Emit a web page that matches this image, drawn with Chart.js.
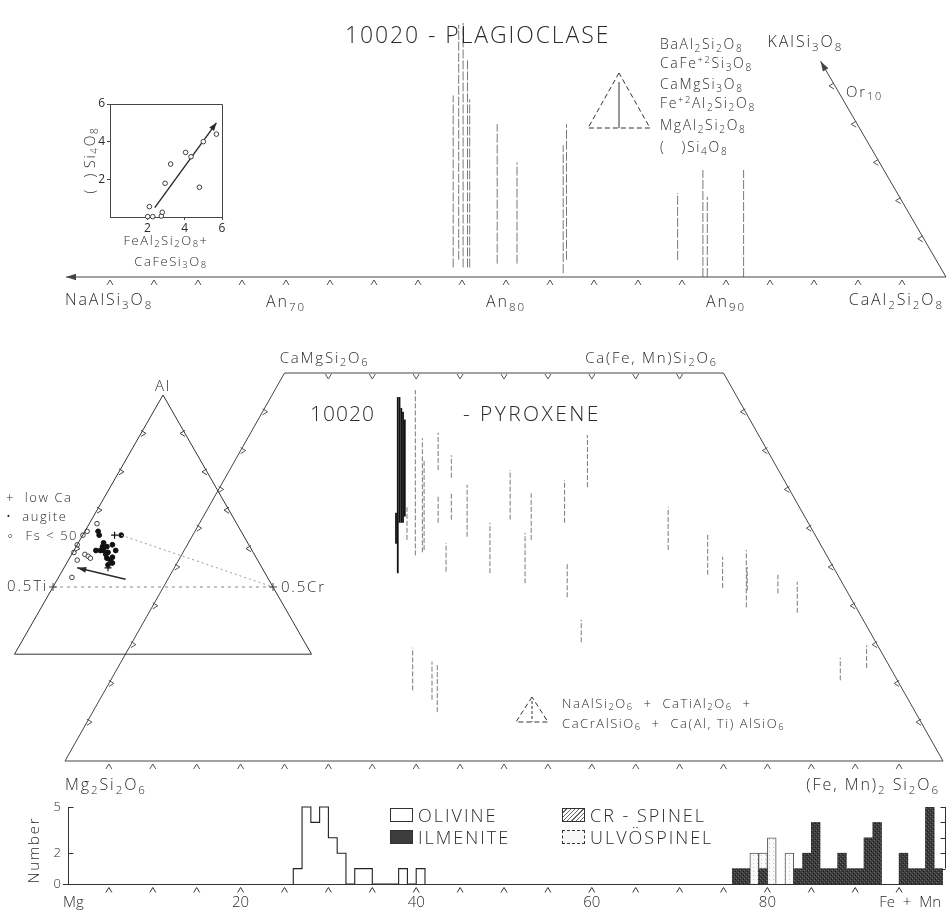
<!DOCTYPE html>
<html>
<head>
<meta charset="utf-8">
<title>10020 plagioclase, pyroxene and opaque minerals</title>
<script src="https://cdn.jsdelivr.net/npm/chart.js@4.4.1/dist/chart.umd.min.js"></script>
<style>
  html, body { margin: 0; padding: 0; background: #fff; }
  #page { position: relative; width: 950px; height: 913px; overflow: hidden; background: #fff;
          font-family: 'Open Sans', 'DejaVu Sans', sans-serif; font-weight: 300; color: #2b2b2b; }
  #page canvas { position: absolute; }
  #glyphs { position: absolute; left: 0; top: 0; }
  .t { position: absolute; white-space: nowrap; line-height: 1; letter-spacing: 0.12em; }
  .l { transform: translate(0, -50%); }
  .c { transform: translate(-50%, -50%); }
  .r { transform: translate(-100%, -50%); }
  .rot { transform: translate(-50%, -50%) rotate(-90deg); }
  sub { font-size: 0.72em; vertical-align: -0.32em; line-height: 0; }
  sup { font-size: 0.66em; vertical-align: 0.55em; line-height: 0; }
  .sw { position: absolute; width: 23px; height: 14px; box-sizing: border-box; border: 1px solid #333; }
</style>
</head>
<body>
<div id="page">
  <canvas id="plag"  width="950" height="300" style="left:0;top:0"></canvas>
  <canvas id="inset" width="240" height="170" style="left:0;top:90px"></canvas>
  <canvas id="pyx"   width="950" height="440" style="left:0;top:340px"></canvas>
  <canvas id="tern"  width="340" height="300" style="left:0;top:380px"></canvas>
  <canvas id="hist"  width="950" height="123" style="left:0;top:790px"></canvas>
  <svg id="glyphs" width="950" height="913">
    <g fill="none" stroke="#333" stroke-width="1" stroke-dasharray="5 3">
      <path d="M619 73 L588 128 L650 128 Z"/>
      <path d="M619 82 L619 128" stroke-dasharray="none"/>
      <path d="M532 697 L516 722 L548 722 Z"/>
      <path d="M532 701 L532 722" stroke-dasharray="3 2"/>
    </g>
  </svg>
</div>
<script>
// ---------------- data ----------------

// Plagioclase: An mol% of each analysed grain trace and the span of its
// minor-component content, read on the Or mol% scale
const plagTraceAn   = [77.6, 77.85, 78.05, 78.25, 78.35, 79.6, 80.5, 82.6, 82.75, 87.8, 88.95, 89.15, 90.8];
const plagTraceLow  = [0.5, 0.9, 0.5, 0.5, 0.5, 0.7, 0.7, 0.2, 0.9, 0.9, 0.0, 0.0, 0.0];
const plagTraceHigh = [9.5, 13.2, 13.3, 11.4, 9.3, 8.0, 6.0, 6.9, 8.0, 4.4, 5.6, 4.2, 5.6];
const anTicks = [62, 64, 66, 68, 70, 72, 74, 76, 78, 80, 82, 84, 86, 88, 90, 92, 94, 96, 98];
const anLabelValues = [70, 80, 90];
const orTicks = [2, 4, 6, 8, 10];
const orEdgeTop = { an: 94.3, or: 11.3 };

// Inset: ( )Si4O8 against FeAl2Si2O8 + CaFeSi3O8
const insetX = [2.02, 2.11, 2.29, 2.75, 2.80, 2.95, 3.25, 4.05, 4.34, 4.79, 5.00, 5.70];
const insetY = [0.02, 0.55, 0.02, 0.05, 0.25, 1.79, 2.81, 3.43, 3.20, 1.58, 4.00, 4.40];
const insetTrendX = [2.4, 5.7];
const insetTrendY = [0.5, 5.0];
const insetTicks = [2, 4, 6];

// Pyroxene traces: horizontal position on the Mg2Si2O6-(Fe,Mn)2Si2O6 join
// and the Wo range (mol%) covered by each trace
const pyxX    = [37.9, 38.1, 38.3, 38.5, 38.7, 37.7, 39.9, 38.95, 40.7, 40.9, 42.5, 42.5, 44.0, 44.0, 43.4, 45.8, 48.4,
                 50.7, 52.4, 53.1, 56.9, 57.2, 59.5, 58.8, 68.7, 39.6, 41.8, 42.4, 73.2, 74.9, 77.6, 77.7, 81.2, 83.4, 88.3, 91.3];
const pyxLow  = [24.2, 30.7, 30.7, 30.7, 31.5, 28.0, 26.5, 28.5, 26.9, 27.2, 37.5, 30.7, 36.5, 31.1, 24.4, 28.9, 24.2,
                 31.1, 22.9, 28.5, 30.7, 21.1, 35.3, 15.3, 27.2, 9.1, 7.9, 6.3, 24.0, 22.3, 19.8, 22.0, 21.6, 19.1, 10.4, 12.0];
const pyxHigh = [46.9, 46.9, 45.5, 45.0, 44.0, 32.0, 47.8, 32.7, 41.6, 38.8, 42.3, 34.3, 39.4, 34.5, 28.1, 35.6, 30.7,
                 37.5, 29.4, 34.5, 36.2, 25.6, 42.0, 18.2, 32.7, 14.6, 12.8, 12.4, 29.4, 26.3, 27.2, 25.0, 24.0, 23.1, 13.3, 14.9];
const woTicks = [5, 10, 15, 20, 25, 30, 35, 40, 45];
const joinTicks = [5, 10, 15, 20, 25, 30, 35, 40, 45, 50, 55, 60, 65, 70, 75, 80, 85, 90, 95];
const topTicks = [30, 35, 40, 45, 50, 55, 60, 65, 70];

// Al - 0.5Ti - 0.5Cr inset: x along the 0.5Ti-0.5Cr line, y = Al fraction
const ternLowCaX  = [0.28, 0.25];
const ternLowCaY  = [0.27, 0.10];
const ternAugiteX = [0.205, 0.21, 0.31, 0.23, 0.245, 0.27, 0.195, 0.23, 0.25, 0.285, 0.24, 0.245, 0.26, 0.27, 0.25, 0.27, 0.225, 0.215];
const ternAugiteY = [0.29, 0.27, 0.27, 0.23, 0.21, 0.22, 0.19, 0.19, 0.18, 0.19, 0.17, 0.15, 0.14, 0.125, 0.115, 0.155, 0.21, 0.19];
const ternFsX     = [0.20, 0.155, 0.136, 0.11, 0.095, 0.145, 0.16, 0.17, 0.11, 0.086];
const ternFsY     = [0.33, 0.29, 0.27, 0.22, 0.18, 0.17, 0.16, 0.15, 0.14, 0.05];
const ternTrendX  = [0.33, 0.11];
const ternTrendY  = [0.04, 0.10];
const ternAlTicks = [0.2, 0.4, 0.6, 0.8];
const ternBaseAl  = -0.35;

// Opaque-mineral histogram, bins of 1 mol% on the Mg to Fe+Mn scale
const olivineBinStart = [26, 27, 28, 29, 30, 31, 32, 33, 34, 35, 36, 37, 38, 39, 40];
const olivineCount    = [ 1,  5,  4,  5,  3,  2,  0,  1,  1,  0,  0,  0,  1,  0,  1];
const ilmeniteBin     = [76, 77, 79, 83, 84, 85, 86, 87, 88, 89, 90, 91, 92, 95, 96, 97, 98, 99];
const ilmeniteCount   = [ 1,  1,  1,  1,  2,  4,  1,  1,  2,  1,  1,  3,  4,  2,  1,  1,  5,  1];
const ulvospinelBin   = [78, 79, 80, 82];
const ulvospinelCount = [ 2,  1,  3,  2];
const crSpinelBin     = [];
const crSpinelCount   = [];
const histTickValues  = [0, 20, 40, 60, 80];
const histTickText    = ['Mg', '20', '40', '60', '80'];
const countLabels     = [0, 2, 5];

// ---------------- drawing helpers ----------------
const INK = '#2b2b2b';
const FONT = "'Open Sans', 'DejaVu Sans', sans-serif";
Chart.defaults.font.family = FONT;
Chart.defaults.color = INK;

const page = document.getElementById('page');

function chevron(ctx, x, y, ux, uy, s) {
  // small open chevron: vertex at (x, y), legs opening toward (ux, uy)
  const px = -uy, py = ux;
  ctx.beginPath();
  ctx.moveTo(x + ux * s + px * s * 0.6, y + uy * s + py * s * 0.6);
  ctx.lineTo(x, y);
  ctx.lineTo(x + ux * s - px * s * 0.6, y + uy * s - py * s * 0.6);
  ctx.stroke();
}

function head(ctx, x0, y0, x1, y1, len, wid) {
  const L = Math.hypot(x1 - x0, y1 - y0) || 1;
  const ux = (x1 - x0) / L, uy = (y1 - y0) / L;
  ctx.beginPath();
  ctx.moveTo(x1, y1);
  ctx.lineTo(x1 - ux * len - uy * wid, y1 - uy * len + ux * wid);
  ctx.lineTo(x1 - ux * len + uy * wid, y1 - uy * len - ux * wid);
  ctx.closePath();
  ctx.fill();
}

// arrowheads at the last point of any dataset flagged with arrowHead
Chart.register({
  id: 'arrowHeads',
  afterDatasetsDraw(chart) {
    const ctx = chart.ctx;
    chart.data.datasets.forEach((ds, i) => {
      if (!ds.arrowHead) return;
      const pts = chart.getDatasetMeta(i).data;
      const a = pts[pts.length - 2], b = pts[pts.length - 1];
      ctx.save();
      ctx.fillStyle = ds.borderColor || INK;
      head(ctx, a.x, a.y, b.x, b.y, ds.arrowHead[0], ds.arrowHead[1]);
      ctx.restore();
    });
  }
});

function lineSet(xs, ys, style) {
  return Object.assign({
    type: 'scatter', showLine: true, pointRadius: 0, clip: false,
    borderColor: INK, borderWidth: 1,
    data: xs.map((v, i) => ({ x: v, y: ys[i] }))
  }, style || {});
}

function traceSets(xs, lows, highs, style) {
  return xs.map((v, i) => lineSet([v, v], [lows[i], highs[i]], style));
}

function frameOptions(xmin, xmax, ymin, ymax, padding) {
  return {
    responsive: false, animation: false, events: [],
    layout: { padding },
    plugins: { legend: { display: false }, tooltip: { enabled: false } },
    scales: {
      x: { type: 'linear', min: xmin, max: xmax, display: false, offset: false },
      y: { type: 'linear', min: ymin, max: ymax, display: false }
    }
  };
}

function put(html, x, y, anchor, size, extra) {
  const d = document.createElement('div');
  d.className = 't ' + (anchor || 'l');
  d.innerHTML = html;
  d.style.left = x + 'px';
  d.style.top = y + 'px';
  d.style.fontSize = (size || 14) + 'px';
  if (extra) Object.assign(d.style, extra);
  page.appendChild(d);
  return d;
}

function at(chart, xv, yv) {
  const c = chart.canvas;
  return [c.offsetLeft + chart.scales.x.getPixelForValue(xv), c.offsetTop + chart.scales.y.getPixelForValue(yv)];
}

function pattern(draw) {
  const c = document.createElement('canvas');
  c.width = 4; c.height = 4;
  draw(c.getContext('2d'));
  return c.getContext('2d').createPattern(c, 'repeat');
}

// ---------------- plagioclase ----------------
const orEdgeAn = k => 100 - k * (100 - orEdgeTop.an) / orEdgeTop.or;

const plag = new Chart(document.getElementById('plag'), {
  type: 'scatter',
  data: {
    datasets: [
      lineSet([100, 60], [0, 0], { borderColor: '#444', arrowHead: [10, 3.2] }),
      lineSet([100, orEdgeTop.an], [0, orEdgeTop.or], { borderColor: '#444', arrowHead: [10, 3.2] }),
      ...traceSets(plagTraceAn, plagTraceLow, plagTraceHigh, { borderColor: '#6a6a6a', borderWidth: 0.9, borderDash: [9, 2] })
    ]
  },
  options: frameOptions(60, 100, 0, 14.5, { left: 66, right: 4, top: 0, bottom: 23 }),
  plugins: [{
    id: 'plagTicks',
    afterDatasetsDraw(chart) {
      const { ctx, scales: { x, y } } = chart;
      ctx.save();
      ctx.strokeStyle = '#555'; ctx.lineWidth = 1;
      const y0 = y.getPixelForValue(0);
      anTicks.forEach(v => chevron(ctx, x.getPixelForValue(v), y0 + 3, 0, 1, 5));
      orTicks.forEach(k => chevron(ctx, x.getPixelForValue(orEdgeAn(k)) - 6, y.getPixelForValue(k), 1, 0, 5));
      ctx.restore();
    }
  }]
});

// ---------------- ( )Si4O8 inset ----------------
const inset = new Chart(document.getElementById('inset'), {
  type: 'scatter',
  data: {
    datasets: [
      { data: insetX.map((v, i) => ({ x: v, y: insetY[i] })), pointRadius: 2.3, pointBorderWidth: 0.9,
        pointBackgroundColor: '#fff', pointBorderColor: INK, clip: false },
      lineSet(insetTrendX, insetTrendY, { borderWidth: 1.4, arrowHead: [8, 3] })
    ]
  },
  options: {
    responsive: false, animation: false, events: [],
    layout: { padding: { left: 88, right: 18, top: 14, bottom: 27 } },
    plugins: { legend: { display: false }, tooltip: { enabled: false } },
    scales: {
      x: { type: 'linear', min: 0, max: 6,
           afterBuildTicks: s => { s.ticks = insetTicks.map(v => ({ value: v })); },
           afterFit: s => { s.height = 16; },
           grid: { drawOnChartArea: false, tickLength: 3, color: '#444' },
           border: { color: '#444' },
           ticks: { font: { size: 12 }, padding: 1, maxRotation: 0 } },
      y: { type: 'linear', min: 0, max: 6,
           afterBuildTicks: s => { s.ticks = insetTicks.map(v => ({ value: v })); },
           afterFit: s => { s.width = 22; },
           grid: { drawOnChartArea: false, tickLength: 3, color: '#444' },
           border: { color: '#444' },
           ticks: { font: { size: 12 }, padding: 2 } }
    }
  },
  plugins: [{
    id: 'box',
    beforeDatasetsDraw(chart) {
      const { ctx, chartArea: a } = chart;
      ctx.save(); ctx.strokeStyle = '#444'; ctx.lineWidth = 1;
      ctx.beginPath();
      ctx.moveTo(a.left, a.top + 0.5); ctx.lineTo(a.right + 0.5, a.top + 0.5); ctx.lineTo(a.right + 0.5, a.bottom);
      ctx.stroke(); ctx.restore();
    }
  }]
});

// ---------------- pyroxene quadrilateral ----------------
const pyx = new Chart(document.getElementById('pyx'), {
  type: 'scatter',
  data: {
    datasets: [
      lineSet([0, 100, 75, 25, 0], [0, 0, 50, 50, 0], { borderColor: '#444' }),
      ...traceSets(pyxX.slice(0, 6), pyxLow.slice(0, 6), pyxHigh.slice(0, 6), { borderColor: '#111', borderWidth: 1.8 }),
      ...traceSets(pyxX.slice(6), pyxLow.slice(6), pyxHigh.slice(6), { borderColor: '#6a6a6a', borderWidth: 0.9, borderDash: [5, 2] })
    ]
  },
  options: frameOptions(0, 100, 0, 50, { left: 65, right: 7, top: 33, bottom: 19 }),
  plugins: [{
    id: 'pyxTicks',
    afterDatasetsDraw(chart) {
      const { ctx, scales: { x, y } } = chart;
      ctx.save(); ctx.strokeStyle = '#555'; ctx.lineWidth = 1;
      const y0 = y.getPixelForValue(0), y50 = y.getPixelForValue(50);
      joinTicks.forEach(v => chevron(ctx, x.getPixelForValue(v), y0 + 3, 0, 1, 5));
      topTicks.forEach(v => chevron(ctx, x.getPixelForValue(v), y50 + 6, 0, -1, 5));
      woTicks.forEach(w => {
        const yy = y.getPixelForValue(w);
        chevron(ctx, x.getPixelForValue(w / 2) + 5, yy, -1, 0, 5);
        chevron(ctx, x.getPixelForValue(100 - w / 2) - 5, yy, 1, 0, 5);
      });
      ctx.restore();
    }
  }]
});

// ---------------- Al - 0.5Ti - 0.5Cr triangle ----------------
const edgeX = (al, side) => side < 0 ? al / 2 : 1 - al / 2;   // x on either side at a given Al level
const tern = new Chart(document.getElementById('tern'), {
  type: 'scatter',
  data: {
    datasets: [
      lineSet([0.5, edgeX(ternBaseAl, 1), edgeX(ternBaseAl, -1), 0.5], [1, ternBaseAl, ternBaseAl, 1], { borderColor: '#333' }),
      lineSet([0, 1], [0, 0], { borderColor: '#888', borderDash: [3, 4] }),
      lineSet([ternAugiteX[2], 1], [ternAugiteY[2], 0], { borderColor: '#999', borderDash: [2, 3] }),
      lineSet(ternTrendX, ternTrendY, { borderWidth: 1.6, arrowHead: [9, 3] }),
      { data: ternFsX.map((v, i) => ({ x: v, y: ternFsY[i] })), pointRadius: 2.3, pointBorderWidth: 0.9,
        pointBackgroundColor: '#fff', pointBorderColor: INK, clip: false },
      { data: ternAugiteX.map((v, i) => ({ x: v, y: ternAugiteY[i] })), pointRadius: 2.4,
        pointBackgroundColor: '#111', pointBorderColor: '#111', clip: false },
      { data: ternLowCaX.map((v, i) => ({ x: v, y: ternLowCaY[i] })), pointStyle: 'cross', pointRadius: 3.5,
        pointBorderWidth: 1.2, pointBorderColor: '#111', clip: false }
    ]
  },
  options: frameOptions(0, 1, 0, 1, { left: 53, right: 67, top: 15, bottom: 93 }),
  plugins: [{
    id: 'ternTicks',
    afterDatasetsDraw(chart) {
      const { ctx, scales: { x, y } } = chart;
      ctx.save(); ctx.strokeStyle = '#444'; ctx.lineWidth = 1;
      ternAlTicks.forEach(al => {
        const yy = y.getPixelForValue(al);
        chevron(ctx, x.getPixelForValue(edgeX(al, -1)) + 5, yy, -1, 0, 5);
        chevron(ctx, x.getPixelForValue(edgeX(al, 1)) - 5, yy, 1, 0, 5);
      });
      // end marks of the 0.5 line
      [0, 1].forEach(v => {
        const xx = x.getPixelForValue(v), yy = y.getPixelForValue(0);
        ctx.beginPath(); ctx.moveTo(xx - 4, yy); ctx.lineTo(xx + 4, yy); ctx.moveTo(xx, yy - 4); ctx.lineTo(xx, yy + 4); ctx.stroke();
      });
      ctx.restore();
    }
  }]
});

// ---------------- histogram ----------------
const olivineStepX = [olivineBinStart[0]], olivineStepY = [0];
olivineBinStart.forEach((b, i) => {
  olivineStepX.push(b, b + 1); olivineStepY.push(olivineCount[i], olivineCount[i]);
});
olivineStepX.push(olivineBinStart[olivineBinStart.length - 1] + 1); olivineStepY.push(0);

const ilmFill = pattern(g => {
  g.fillStyle = '#3c3c3c'; g.fillRect(0, 0, 4, 4);
  g.fillStyle = '#6a6a6a'; g.fillRect(0, 0, 1, 1); g.fillRect(2, 2, 1, 1);
  g.fillStyle = '#1e1e1e'; g.fillRect(1, 3, 1, 1); g.fillRect(3, 1, 1, 1);
});
const ulvFill = pattern(g => {
  g.fillStyle = '#fafafa'; g.fillRect(0, 0, 4, 4);
  g.fillStyle = '#c8c8c8'; g.fillRect(1, 1, 1, 1);
});
const crFill = pattern(g => {
  g.fillStyle = '#fff'; g.fillRect(0, 0, 4, 4);
  g.fillStyle = '#555'; g.fillRect(3, 0, 1, 1); g.fillRect(2, 1, 1, 1); g.fillRect(1, 2, 1, 1); g.fillRect(0, 3, 1, 1);
});

const binBars = (bins, counts) => bins.map((b, i) => ({ x: b + 0.5, y: counts[i] }));

const histOpts = frameOptions(0, 100, 0, 5, { left: 65, right: 7, top: 17, bottom: 29 });
histOpts.scales.x.stacked = true;
histOpts.scales.y.stacked = true;

const hist = new Chart(document.getElementById('hist'), {
  type: 'bar',
  data: {
    datasets: [
      { label: 'ILMENITE', data: binBars(ilmeniteBin, ilmeniteCount), backgroundColor: ilmFill,
        borderWidth: 0, barPercentage: 1, categoryPercentage: 1 },
      { label: 'ULVÖSPINEL', data: binBars(ulvospinelBin, ulvospinelCount), backgroundColor: ulvFill,
        borderColor: '#555', borderWidth: 1, barPercentage: 1, categoryPercentage: 1 },
      { label: 'CR - SPINEL', data: binBars(crSpinelBin, crSpinelCount), backgroundColor: crFill,
        borderColor: '#555', borderWidth: 1, barPercentage: 1, categoryPercentage: 1 },
      Object.assign(lineSet(olivineStepX, olivineStepY, { borderColor: '#222', borderWidth: 1.1 }),
        { type: 'line', label: 'OLIVINE' })
    ]
  },
  options: histOpts,
  plugins: [{
    id: 'histAxes',
    afterDatasetsDraw(chart) {
      const { ctx, chartArea: a, scales: { x, y } } = chart;
      ctx.save(); ctx.strokeStyle = '#333'; ctx.lineWidth = 1; ctx.fillStyle = INK;
      const y0 = Math.round(y.getPixelForValue(0)) + 0.5;
      // baseline and carets
      ctx.beginPath(); ctx.moveTo(a.left - 2, y0); ctx.lineTo(a.right, y0); ctx.stroke();
      joinTicks.forEach(v => chevron(ctx, x.getPixelForValue(v), y0 + 3, 0, 1, 5));
      // left count axis
      const xl = Math.round(a.left) + 3.5;
      ctx.beginPath(); ctx.moveTo(xl, y0); ctx.lineTo(xl, y.getPixelForValue(5)); ctx.stroke();
      ctx.font = `300 13px ${FONT}`; ctx.textAlign = 'right'; ctx.textBaseline = 'middle';
      countLabels.forEach(v => {
        const yy = Math.round(y.getPixelForValue(v)) + 0.5;
        ctx.beginPath(); ctx.moveTo(xl, yy); ctx.lineTo(xl + 5, yy); ctx.stroke();
        ctx.fillText(String(v), a.left - 4, yy);
      });
      // right count axis
      const xr = Math.round(a.right) + 2.5;
      ctx.beginPath(); ctx.moveTo(xr, y.getPixelForValue(1)); ctx.lineTo(xr, y.getPixelForValue(5)); ctx.stroke();
      [1, 2, 3, 4, 5].forEach(v => {
        const yy = Math.round(y.getPixelForValue(v)) + 0.5;
        ctx.beginPath(); ctx.moveTo(xr, yy); ctx.lineTo(xr - 5, yy); ctx.stroke();
      });
      // composition labels
      ctx.font = `300 15px ${FONT}`; ctx.textBaseline = 'middle';
      histTickValues.forEach((v, i) => {
        ctx.textAlign = i === 0 ? 'left' : 'center';
        ctx.fillText(histTickText[i], x.getPixelForValue(v) - (i === 0 ? 2 : 0), y0 + 18);
      });
      ctx.textAlign = 'right';
      ctx.fillText('Fe  +  Mn', a.right - 2, y0 + 18);
      ctx.restore();
    }
  }]
});

// ---------------- text ----------------
// plagioclase
put('10020 - PLAGIOCLASE', 345, 34, 'l', 23, { letterSpacing: '1.9px' });
[
  'BaAl<sub>2</sub>Si<sub>2</sub>O<sub>8</sub>',
  'CaFe<sup>+2</sup>Si<sub>3</sub>O<sub>8</sub>',
  'CaMgSi<sub>3</sub>O<sub>8</sub>',
  'Fe<sup>+2</sup>Al<sub>2</sub>Si<sub>2</sub>O<sub>8</sub>',
  'MgAl<sub>2</sub>Si<sub>2</sub>O<sub>8</sub>',
  '(&nbsp;&nbsp;&nbsp;)Si<sub>4</sub>O<sub>8</sub>'
].forEach((s, i) => put(s, 660, [44, 63, 84, 103, 125, 147][i], 'l', 14));

let p = at(plag, orEdgeTop.an, orEdgeTop.or);
put('KAlSi<sub>3</sub>O<sub>8</sub>', p[0] - 53, p[1] - 20, 'l', 16);
p = at(plag, orEdgeAn(10), 10);
put('Or<sub>10</sub>', p[0] + 11, p[1] + 5, 'l', 15);
p = at(plag, 60, 0);
put('NaAlSi<sub>3</sub>O<sub>8</sub>', p[0] - 1, p[1] + 22, 'l', 16);
anLabelValues.forEach(v => { const q = at(plag, v, 0); put('An<sub>' + v + '</sub>', q[0], q[1] + 24, 'c', 16); });
p = at(plag, 100, 0);
put('CaAl<sub>2</sub>Si<sub>2</sub>O<sub>8</sub>', p[0] - 2, p[1] + 22, 'r', 16);

// inset titles
put('(&nbsp;&nbsp;)&thinsp;Si<sub>4</sub>O<sub>8</sub>', 90, 160, 'rot', 14);
put('FeAl<sub>2</sub>Si<sub>2</sub>O<sub>8</sub>+', 166, 240, 'c', 13);
put('CaFeSi<sub>3</sub>O<sub>8</sub>', 171, 261, 'c', 13);

// pyroxene
p = at(pyx, 25, 50);
put('CaMgSi<sub>2</sub>O<sub>6</sub>', p[0] + 40, p[1] - 16, 'c', 15);
p = at(pyx, 75, 50);
put('Ca(Fe, Mn)Si<sub>2</sub>O<sub>6</sub>', p[0] - 72, p[1] - 16, 'c', 15);
put('10020', 310, 413, 'l', 21, { letterSpacing: '1px' });
put('- PYROXENE', 463, 413, 'l', 21, { letterSpacing: '2.4px' });
p = at(pyx, 0, 0);
put('Mg<sub>2</sub>Si<sub>2</sub>O<sub>6</sub>', p[0], p[1] + 23, 'l', 16);
p = at(pyx, 100, 0);
put('(Fe, Mn)<sub>2</sub> Si<sub>2</sub>O<sub>6</sub>', p[0] - 3, p[1] + 23, 'r', 16);
put('NaAlSi<sub>2</sub>O<sub>6</sub> &nbsp;+ &nbsp;CaTiAl<sub>2</sub>O<sub>6</sub> &nbsp;+', 562, 703, 'l', 13);
put('CaCrAlSiO<sub>6</sub> &nbsp;+ &nbsp;Ca(Al, Ti) AlSiO<sub>6</sub>', 562, 723, 'l', 13);

// triangle labels and symbol key
p = at(tern, 0.5, 1);
put('Al', p[0], p[1] - 10, 'c', 15);
p = at(tern, 0, 0);
put('0.5Ti', p[0] - 5, p[1] - 2, 'r', 15);
p = at(tern, 1, 0);
put('0.5Cr', p[0] + 8, p[1] - 1, 'l', 15);
put('+&nbsp; low Ca', 6, 497, 'l', 13);
put('&bull;&nbsp; augite', 6, 516, 'l', 13);
put('&#8728;&nbsp; Fs &lt; 50', 6, 535, 'l', 13);

// histogram key
put('Number', 33, 850, 'rot', 15);
[['OLIVINE', 390, 815, '#fff'], ['ILMENITE', 390, 837, '#3c3c3c'],
 ['CR - SPINEL', 562, 815, 'repeating-linear-gradient(135deg,#fff 0 2px,#666 2px 3px)'],
 ['ULVÖSPINEL', 562, 837, '#f7f7f7']].forEach(([name, x, y, bg]) => {
  const s = document.createElement('div');
  s.className = 'sw';
  s.style.left = x + 'px'; s.style.top = (y - 7) + 'px'; s.style.background = bg;
  if (name === 'ULVÖSPINEL') s.style.borderStyle = 'dashed';
  page.appendChild(s);
  put(name, x + 28, y, 'l', 18, { letterSpacing: '2px' });
});
</script>
</body>
</html>
